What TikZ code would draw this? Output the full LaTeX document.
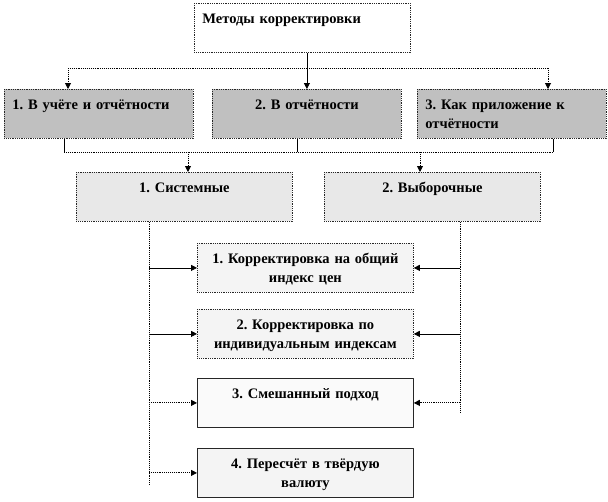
\documentclass[tikz,border=0pt]{standalone}
\usepackage{fontspec}
\setmainfont{Liberation Serif}
\usetikzlibrary{arrows.meta,calc}
\definecolor{midgray}{HTML}{C0C0C0}
\definecolor{palegray}{HTML}{E8E8E8}
\definecolor{palergray}{HTML}{F4F4F4}
\definecolor{palestgray}{HTML}{FAFAFA}
\frenchspacing

\begin{document}
\begin{tikzpicture}[x=1pt,y=-1pt,>={Triangle[length=6pt,width=6pt]},line join=round,
	font=\bfseries\fontsize{14.5}{19}\selectfont,
	box/.style={draw=black!85,line width=0.8pt,anchor=north west,inner xsep=8pt,inner ysep=0pt,text height=20pt,text depth=29pt},
	wide/.style={box,text width=200pt,align=center},
	narrow/.style={box,text width=173pt,align=center},
	dotline/.style={densely dotted,line width=0.9pt},
	link/.style={line width=0.8pt}]
	
	\useasboundingbox (0,0) rectangle (608,501);
	% Hàng trên cùng
	\node[wide,densely dotted,align=left,fill=white] (top) at (194,3) {Методы корректировки};
	\node[narrow,densely dotted,align=left,fill=midgray] (a) at (4,89) {1. В учёте и отчётности};
	\node[narrow,densely dotted,fill=midgray] (b) at (212,89) {2. В отчётности};
	\node[narrow,densely dotted,align=left,fill=midgray] (c) at (417,89) {3. Как приложение к\\отчётности};
	% Hàng thứ hai
	\node[wide,densely dotted,fill=palegray] (s) at (76,172) {1. Системные};
	\node[wide,densely dotted,fill=palegray] (v) at (324,172) {2. Выборочные};
	% Các phương pháp
	\node[wide,densely dotted,fill=palergray] (k1) at (197,243) {1. Корректировка на общий\\индекс цен};
	\node[wide,densely dotted,fill=palergray] (k2) at (197,309) {2. Корректировка по\\индивидуальным индексам};
	\node[wide,fill=palestgray] (k3) at (197,378) {3. Смешанный подход};
	\node[wide,fill=palergray] (k4) at (197,448) {4. Пересчёт в твёрдую\\валюту};
	
	\coordinate (bus1) at (0,68);
	\coordinate (bus2) at (0,152);
	\coordinate (ain) at ($(a.north west)+(64,0)$);
	\coordinate (cin) at ($(c.north west)+(131,0)$);
	\coordinate (aout) at ($(a.south west)+(60,0)$);
	\coordinate (bout) at ($(b.south west)+(85,0)$);
	\coordinate (cout) at ($(c.south west)+(136,0)$);
	\coordinate (sin) at ($(s.north west)+(112,0)$);
	\coordinate (vin) at ($(v.north west)+(96,0)$);
	\coordinate (lspine) at ($(s.south west)+(73,0)$);
	\coordinate (rspine) at ($(v.south west)+(136,0)$);
	
	\draw[link,->] (b.north |- top.south) -- (b.north);
	\draw[dotline] (ain |- bus1) -- (cin |- bus1);
	\draw[dotline,->] (ain |- bus1) -- (ain);
	\draw[dotline,->] (cin |- bus1) -- (cin);
	
	\draw[link] (aout) -- (aout |- bus2) (bout) -- (bout |- bus2) (cout) -- (cout |- bus2);
	\draw[dotline] (aout |- bus2) -- (cout |- bus2);
	\draw[dotline,->] (sin |- bus2) -- (sin);
	\draw[dotline,->] (vin |- bus2) -- (vin);
	
	% Hai trục dọc
	\draw[dotline] (lspine) -- ($(lspine |- k4.south)+(0,-12)$);
	\draw[dotline] (rspine) -- ($(rspine |- k3.west)+(0,10)$);
	\draw[link,->] (lspine |- k1.west) -- (k1.west);
	\draw[link,->] (lspine |- k2.west) -- (k2.west);
	\draw[dotline,->] (lspine |- k3.west) -- (k3.west);
	\draw[dotline,->] (lspine |- k4.west) -- (k4.west);
	\draw[link,->] (rspine |- k1.east) -- (k1.east);
	\draw[link,->] (rspine |- k2.east) -- (k2.east);
	\draw[dotline,->] (rspine |- k3.east) -- (k3.east);
\end{tikzpicture}
\end{document}
